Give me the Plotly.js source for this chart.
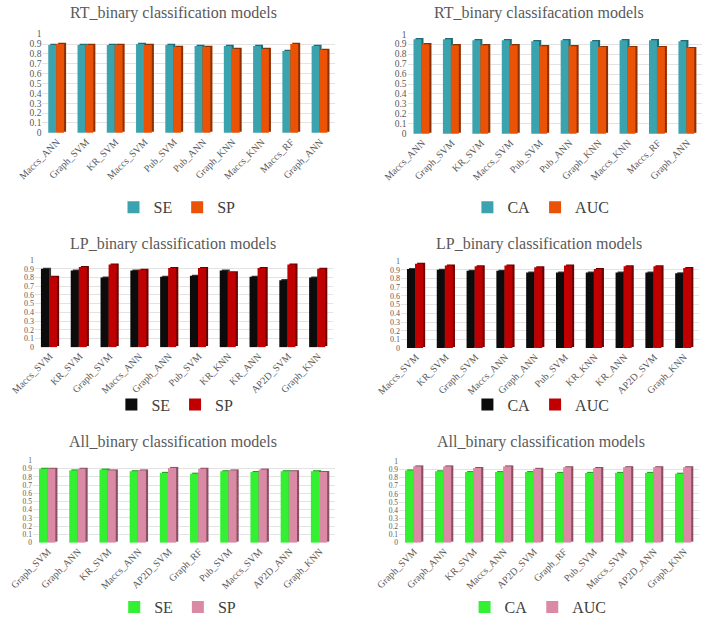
<!DOCTYPE html>
<html>
<head>
<meta charset="utf-8">
<script src="https://cdn.plot.ly/plotly-3.0.1.min.js"></script>
<style>html,body{margin:0;padding:0;background:#fff;}#chart{width:708px;height:624px;}</style>
</head>
<body>
<div id="chart"></div>
<script>
// ---- data ----
const rtModels = ["Maccs_ANN","Graph_SVM","KR_SVM","Maccs_SVM","Pub_SVM","Pub_ANN","Graph_KNN","Maccs_KNN","Maccs_RF","Graph_ANN"];
const rtSE  = [0.89,0.89,0.89,0.90,0.89,0.88,0.88,0.88,0.83,0.88];
const rtSP  = [0.90,0.89,0.89,0.89,0.87,0.87,0.85,0.85,0.90,0.84];
const rtCA  = [0.95,0.95,0.94,0.94,0.93,0.94,0.93,0.94,0.94,0.93];
const rtAUC = [0.90,0.89,0.89,0.89,0.88,0.88,0.87,0.87,0.87,0.86];

const lpModels = ["Maccs_SVM","KR_SVM","Graph_SVM","Maccs_ANN","Graph_ANN","Pub_SVM","KR_KNN","KR_ANN","AP2D_SVM","Graph_KNN"];
const lpSE  = [0.90,0.88,0.80,0.88,0.81,0.82,0.88,0.81,0.77,0.80];
const lpSP  = [0.81,0.92,0.95,0.89,0.91,0.91,0.86,0.91,0.95,0.90];
const lpCA  = [0.91,0.90,0.89,0.89,0.87,0.87,0.87,0.87,0.87,0.86];
const lpAUC = [0.97,0.95,0.94,0.95,0.93,0.95,0.91,0.94,0.94,0.92];

const allModels = ["Graph_SVM","Graph_ANN","KR_SVM","Maccs_ANN","AP2D_SVM","Graph_RF","Pub_SVM","Maccs_SVM","AP2D_ANN","Graph_KNN"];
const allSE  = [0.90,0.88,0.89,0.87,0.85,0.84,0.87,0.86,0.87,0.87];
const allSP  = [0.90,0.90,0.88,0.88,0.91,0.90,0.88,0.89,0.87,0.86];
const allCA  = [0.89,0.88,0.87,0.87,0.87,0.86,0.86,0.86,0.86,0.85];
const allAUC = [0.94,0.94,0.92,0.94,0.91,0.93,0.92,0.93,0.93,0.93];

const titles = ["RT_binary classification models","RT_binary classifacation models",
                "LP_binary classification models","LP_binary classification models",
                "All_binary classification models","All_binary classification models"];

// ---- styling ----
const serif = "Liberation Serif, Times New Roman, serif";
const textGray = "#595959";
const palettes = {
  rt:  {a:"#3BA3AE", as:"#1E6C74", b:"#EA5205", bs:"#8E2F00"},
  lp:  {a:"#0C0C0C", as:"#3A3A3A", b:"#C00000", bs:"#6E0000"},
  all: {a:"#33F033", as:"#1E9A1E", b:"#DA8AA5", bs:"#8A4F62"}
};

const panels = [
  {cats: rtModels,  a: rtSE,  b: rtSP,  na:"SE", nb:"SP",  pal: palettes.rt, fs:9.5,
   xd:[0.0599,0.4732], yd:[0.7837,0.9455], lx:0.25,  ly:0.6635, tx:173, ty:13},
  {cats: rtModels,  a: rtCA,  b: rtAUC, na:"CA", nb:"AUC", pal: palettes.rt, fs:9.5,
   xd:[0.5757,0.9915], yd:[0.7821,0.9455], lx:0.764, ly:0.6635, tx:539, ty:13},
  {cats: lpModels,  a: lpSE,  b: lpSP,  na:"SE", nb:"SP",  pal: palettes.lp, fs:8,
   xd:[0.0494,0.4703], yd:[0.4359,0.5785], lx:0.247, ly:0.343, tx:173, ty:247},
  {cats: lpModels,  a: lpCA,  b: lpAUC, na:"CA", nb:"AUC", pal: palettes.lp, fs:8,
   xd:[0.5664,0.9873], yd:[0.4343,0.5769], lx:0.764, ly:0.343, tx:539, ty:247},
  {cats: allModels, a: allSE, b: allSP, na:"SE", nb:"SP",  pal: palettes.all, fs:7.5,
   xd:[0.0466,0.4732], yd:[0.1186,0.2532], lx:0.251, ly:0.0144, tx:173, ty:448},
  {cats: allModels, a: allCA, b: allAUC,na:"CA", nb:"AUC", pal: palettes.all, fs:7.5,
   xd:[0.5636,0.9873], yd:[0.1186,0.2516], lx:0.76,  ly:0.0144, tx:541, ty:448}
];

const W = 708, H = 624;
const traces = [];
const layout = {
  width: W, height: H,
  margin: {l:0, r:0, t:0, b:0},
  paper_bgcolor: "#ffffff", plot_bgcolor: "rgba(0,0,0,0)",
  barmode: "overlay",
  showlegend: true,
  font: {family: serif, color: textGray},
  annotations: []
};

const depthX = 0.07, depthY = 0.012;
panels.forEach((p, i) => {
  const n = i + 1;
  const xa = n === 1 ? "x" : "x" + n;
  const ya = n === 1 ? "y" : "y" + n;
  const lg = n === 1 ? "legend" : "legend" + n;
  const common = {type: "bar", x: p.cats, xaxis: xa, yaxis: ya, hoverinfo: "skip", legend: lg};
  // side/top faces (3D look), then front faces
  traces.push(Object.assign({}, common, {y: p.a, base: depthY, offset: -0.30 + depthX, width: 0.27,
    marker: {color: p.pal.as, line: {width: 0}}, showlegend: false}));
  traces.push(Object.assign({}, common, {y: p.a, offset: -0.30, width: 0.27, name: p.na,
    marker: {color: p.pal.a, line: {width: 0}}}));
  traces.push(Object.assign({}, common, {y: p.b, base: depthY, offset: -0.03 + depthX, width: 0.27,
    marker: {color: p.pal.bs, line: {width: 0}}, showlegend: false}));
  traces.push(Object.assign({}, common, {y: p.b, offset: -0.03, width: 0.27, name: p.nb,
    marker: {color: p.pal.b, line: {width: 0}}}));

  layout["xaxis" + (n === 1 ? "" : n)] = {
    domain: p.xd, anchor: ya, type: "category", range: [-0.5, 9.5],
    showgrid: false, zeroline: false, showline: false, ticks: "",
    tickangle: -45, tickfont: {family: serif, size: 10, color: textGray},
    fixedrange: true
  };
  layout["yaxis" + (n === 1 ? "" : n)] = {
    domain: p.yd, anchor: xa, range: [-0.004, 1.006], dtick: 0.1, tick0: 0,
    showgrid: true, gridcolor: "#E3E3E3", gridwidth: 1, zeroline: false, showline: false,
    ticks: "", tickfont: {family: serif, size: p.fs, color: textGray}, fixedrange: true
  };
  layout[lg] = {
    orientation: "h", x: p.lx, y: p.ly, xanchor: "center", yanchor: "middle",
    xref: "paper", yref: "paper",
    font: {family: serif, size: 16, color: "#404040"},
    bgcolor: "rgba(0,0,0,0)", itemwidth: 30, itemclick: false, itemdoubleclick: false
  };
  layout.annotations.push({
    text: titles[i], xref: "paper", yref: "paper",
    x: p.tx / W, y: 1 - p.ty / H, xanchor: "center", yanchor: "middle",
    showarrow: false, font: {family: serif, size: 16, color: textGray}
  });
});

Plotly.newPlot("chart", traces, layout, {staticPlot: true, displayModeBar: false});
</script>
</body>
</html>
